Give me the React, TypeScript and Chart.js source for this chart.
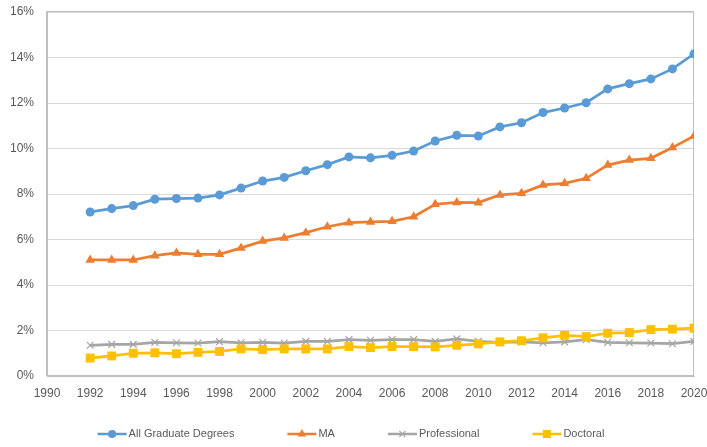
import React, { useEffect, useRef } from "react";
import { Chart, registerables } from "chart.js";

Chart.register(...registerables);

const years = [1992, 1993, 1994, 1995, 1996, 1997, 1998, 1999, 2000, 2001, 2002, 2003, 2004, 2005, 2006, 2007, 2008, 2009, 2010, 2011, 2012, 2013, 2014, 2015, 2016, 2017, 2018, 2019, 2020];

const allGraduate = [7.21, 7.36, 7.49, 7.77, 7.80, 7.82, 7.96, 8.26, 8.57, 8.73, 9.02, 9.29, 9.63, 9.59, 9.70, 9.89, 10.33, 10.58, 10.55, 10.95, 11.13, 11.58, 11.78, 12.01, 12.62, 12.85, 13.06, 13.50, 14.16];
const ma = [5.10, 5.10, 5.10, 5.29, 5.41, 5.35, 5.35, 5.63, 5.93, 6.07, 6.30, 6.56, 6.74, 6.77, 6.80, 7.00, 7.55, 7.63, 7.62, 7.96, 8.03, 8.40, 8.47, 8.69, 9.27, 9.49, 9.57, 10.04, 10.55];
const professional = [1.35, 1.39, 1.39, 1.48, 1.46, 1.45, 1.51, 1.46, 1.48, 1.45, 1.52, 1.52, 1.60, 1.57, 1.60, 1.60, 1.52, 1.63, 1.52, 1.48, 1.50, 1.46, 1.50, 1.60, 1.48, 1.46, 1.45, 1.42, 1.52];
const doctoral = [0.79, 0.88, 1.00, 1.02, 0.98, 1.04, 1.08, 1.19, 1.16, 1.19, 1.19, 1.19, 1.29, 1.25, 1.29, 1.29, 1.28, 1.35, 1.41, 1.50, 1.55, 1.68, 1.79, 1.73, 1.88, 1.91, 2.04, 2.06, 2.10];

const seriesNames = ["All Graduate Degrees", "MA", "Professional", "Doctoral"];
const seriesColors = ["#5B9BD5", "#ED7D31", "#A5A5A5", "#FFC000"];
const seriesStyles = ["circle", "triangle", "crossRot", "rect"];
const seriesRadius = [4.5, 5.5, 4.8, 6.3];

const xMin = 1990;
const xMax = 2020;
const xStep = 2;
const yMin = 0;
const yMax = 16;
const yStep = 2;

const FONT = "'Liberation Sans', Arial, sans-serif";
const TEXT_COLOR = "#595959";
const BORDER_COLOR = "#bfbfbf";
const GRID_COLOR = "#d9d9d9";

function drawMarker(ctx: CanvasRenderingContext2D, style: string, x: number, y: number, r: number) {
  ctx.beginPath();
  if (style === "circle") {
    ctx.arc(x, y, r, 0, Math.PI * 2);
    ctx.fill();
  } else if (style === "triangle") {
    for (let k = 0; k < 3; k++) {
      const a = (k * 2 * Math.PI) / 3;
      const px = x + Math.sin(a) * r;
      const py = y - Math.cos(a) * r;
      if (k === 0) ctx.moveTo(px, py);
      else ctx.lineTo(px, py);
    }
    ctx.closePath();
    ctx.fill();
  } else if (style === "rect") {
    const s = r * Math.SQRT1_2;
    ctx.rect(x - s, y - s, 2 * s, 2 * s);
    ctx.fill();
  } else if (style === "crossRot") {
    const s = r * Math.SQRT1_2;
    ctx.moveTo(x - s, y - s);
    ctx.lineTo(x + s, y + s);
    ctx.moveTo(x - s, y + s);
    ctx.lineTo(x + s, y - s);
    ctx.stroke();
  }
}

const framePlugin = {
  id: "frame",
  beforeDatasetsDraw(chart: any) {
    const { ctx, chartArea } = chart;
    ctx.save();
    ctx.strokeStyle = BORDER_COLOR;
    ctx.lineWidth = 1;
    ctx.strokeRect(
      Math.round(chartArea.left) - 0.5,
      Math.round(chartArea.top) - 0.5,
      Math.round(chartArea.right - chartArea.left),
      Math.round(chartArea.bottom - chartArea.top)
    );
    ctx.restore();
  },
};

const legendPlugin = {
  id: "customLegend",
  afterDraw(chart: any) {
    const { ctx } = chart;
    const sample = 29;
    const textGap = 2;
    const itemGap = 53;
    const centerX = 351;
    const y = 434;
    ctx.save();
    ctx.font = `11px ${FONT}`;
    const widths = seriesNames.map((n) => sample + textGap + ctx.measureText(n).width);
    const total = widths.reduce((a, b) => a + b, 0) + itemGap * (widths.length - 1);
    let x = centerX - total / 2;
    chart.data.datasets.forEach((ds: any, i: number) => {
      ctx.strokeStyle = ds.borderColor;
      ctx.lineWidth = 2.5;
      ctx.beginPath();
      ctx.moveTo(x, y);
      ctx.lineTo(x + sample, y);
      ctx.stroke();
      ctx.fillStyle = ds.pointBackgroundColor;
      ctx.strokeStyle = ds.pointBorderColor;
      ctx.lineWidth = 1.2;
      drawMarker(ctx, seriesStyles[i], x + sample / 2, y, seriesRadius[i] * 0.9);
      ctx.fillStyle = TEXT_COLOR;
      ctx.textBaseline = "middle";
      ctx.textAlign = "left";
      ctx.fillText(seriesNames[i], x + sample + textGap, y);
      x += widths[i] + itemGap;
    });
    ctx.restore();
  },
};

export default function App() {
  const canvasRef = useRef<HTMLCanvasElement | null>(null);

  useEffect(() => {
    document.body.style.margin = "0";
    const canvas = canvasRef.current;
    if (!canvas) return;
    const seriesValues = [allGraduate, ma, professional, doctoral];
    const chart = new Chart(canvas, {
      type: "line",
      data: {
        datasets: seriesValues.map((vals, i) => ({
          label: seriesNames[i],
          data: years.map((yr, j) => ({ x: yr, y: vals[j] })),
          borderColor: seriesColors[i],
          backgroundColor: seriesColors[i],
          pointBackgroundColor: seriesColors[i],
          pointBorderColor: seriesColors[i],
          pointBorderWidth: seriesStyles[i] === "crossRot" ? 1.2 : 0,
          pointStyle: seriesStyles[i] as any,
          pointRadius: seriesRadius[i],
          borderWidth: 2.75,
          tension: 0,
          fill: false,
          order: i === 2 ? 3 : i === 3 ? 2 : i,
        })),
      },
      options: {
        animation: false,
        responsive: true,
        maintainAspectRatio: false,
        layout: { padding: { left: 0, right: 13, top: 12, bottom: 0 } },
        plugins: {
          legend: { display: false },
          tooltip: { enabled: false },
        },
        scales: {
          x: {
            type: "linear",
            min: xMin,
            max: xMax,
            ticks: {
              stepSize: xStep,
              color: TEXT_COLOR,
              font: { family: FONT, size: 12 },
              padding: 10,
              maxRotation: 0,
              autoSkip: false,
              callback: (v: any) => String(v),
            },
            grid: { display: false, drawTicks: false },
            border: { display: true, color: BORDER_COLOR, width: 1 },
            afterFit: (scale: any) => {
              scale.height = 71;
              scale.paddingLeft = 0;
              scale.paddingRight = 0;
            },
          },
          y: {
            type: "linear",
            min: yMin,
            max: yMax,
            ticks: {
              stepSize: yStep,
              color: TEXT_COLOR,
              font: { family: FONT, size: 12 },
              padding: 13,
              callback: (v: any) => `${v}%`,
            },
            grid: { color: GRID_COLOR, drawTicks: false, lineWidth: 1 },
            border: { display: true, color: BORDER_COLOR, width: 1 },
            afterFit: (scale: any) => {
              scale.width = 47;
              scale.paddingTop = 0;
              scale.paddingBottom = 0;
            },
          },
        },
      },
      plugins: [framePlugin, legendPlugin],
    });
    return () => chart.destroy();
  }, []);

  return (
    <div style={{ position: "relative", width: 707, height: 447, background: "#ffffff" }}>
      <canvas ref={canvasRef} />
    </div>
  );
}
